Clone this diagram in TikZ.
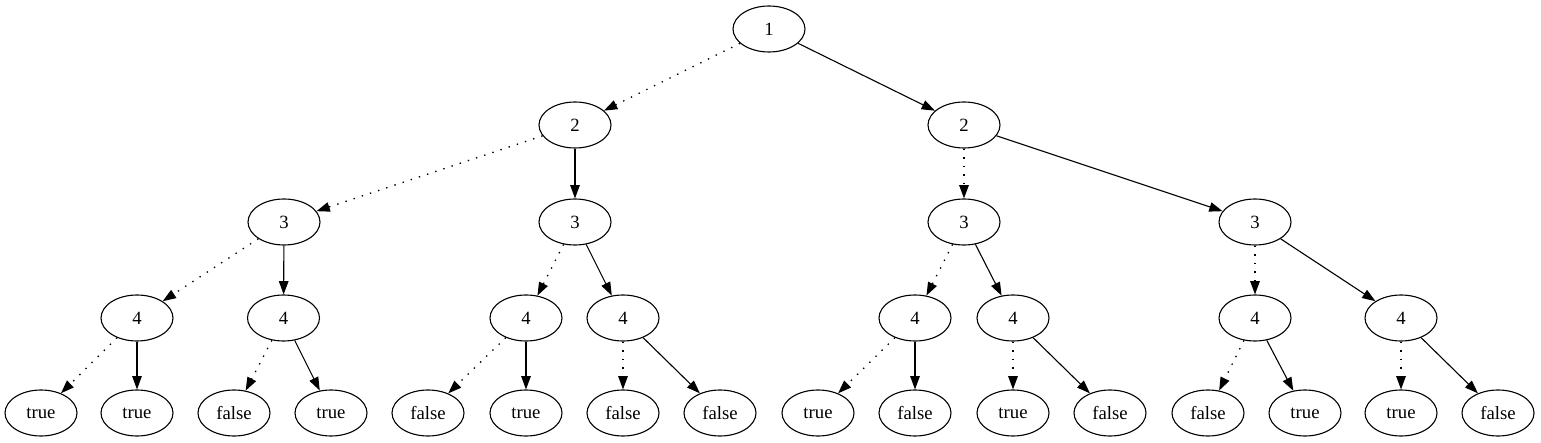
\documentclass[tikz,border=0pt]{standalone}
\usepackage{fontspec}
\setmainfont{Liberation Serif}
\usetikzlibrary{shapes.geometric,arrows.meta}
\begin{document}
\begin{tikzpicture}[x=1pt,y=-1pt,
  nd/.style={draw,ellipse,line width=1.1pt,minimum width=72pt,minimum height=46pt,inner sep=0pt,font=\fontsize{18.7}{20}\selectfont},
  lo/.style={line width=1.3pt,dash pattern=on 1.4pt off 7.2pt,-{Triangle[length=13.3pt,width=9.5pt]}},
  hi/.style={line width=1.1pt,-{Triangle[length=13.3pt,width=9.5pt]}}]
\useasboundingbox (0,0) rectangle (1541,443);
\node[nd] (r) at (769,29) {1};
\node[nd] (a) at (575,125) {2};
\node[nd] (b) at (964,125) {2};
\node[nd] (aa) at (284,222) {3};
\node[nd] (ab) at (575,222) {3};
\node[nd] (ba) at (964,222) {3};
\node[nd] (bb) at (1255,222) {3};
\node[nd] (aaa) at (137,318) {4};
\node[nd] (aab) at (283.5,318) {4};
\node[nd] (aba) at (526,318) {4};
\node[nd] (abb) at (623,318) {4};
\node[nd] (baa) at (915,318) {4};
\node[nd] (bab) at (1013,318) {4};
\node[nd] (bba) at (1255,318) {4};
\node[nd] (bbb) at (1401,318) {4};
\node[nd] (l1) at (41,413) {true};
\node[nd] (l2) at (137,413) {true};
\node[nd] (l3) at (234,413) {false};
\node[nd] (l4) at (331,413) {true};
\node[nd] (l5) at (428,413) {false};
\node[nd] (l6) at (526,413) {true};
\node[nd] (l7) at (623,413) {false};
\node[nd] (l8) at (720,413) {false};
\node[nd] (l9) at (818,413) {true};
\node[nd] (l10) at (915,413) {false};
\node[nd] (l11) at (1013,413) {true};
\node[nd] (l12) at (1110,413) {false};
\node[nd] (l13) at (1208,413) {false};
\node[nd] (l14) at (1305,413) {true};
\node[nd] (l15) at (1401,413) {true};
\node[nd] (l16) at (1498,413) {false};
\draw[lo] (r) -- (a);   \draw[hi] (r) -- (b);
\draw[lo] (a) -- (aa);  \draw[hi] (a) -- (ab);
\draw[lo] (b) -- (ba);  \draw[hi] (b) -- (bb);
\draw[lo] (aa) -- (aaa); \draw[hi] (aa) -- (aab);
\draw[lo] (ab) -- (aba); \draw[hi] (ab) -- (abb);
\draw[lo] (ba) -- (baa); \draw[hi] (ba) -- (bab);
\draw[lo] (bb) -- (bba); \draw[hi] (bb) -- (bbb);
\draw[lo] (aaa) -- (l1); \draw[hi] (aaa) -- (l2);
\draw[lo] (aab) -- (l3); \draw[hi] (aab) -- (l4);
\draw[lo] (aba) -- (l5); \draw[hi] (aba) -- (l6);
\draw[lo] (abb) -- (l7); \draw[hi] (abb) -- (l8);
\draw[lo] (baa) -- (l9); \draw[hi] (baa) -- (l10);
\draw[lo] (bab) -- (l11); \draw[hi] (bab) -- (l12);
\draw[lo] (bba) -- (l13); \draw[hi] (bba) -- (l14);
\draw[lo] (bbb) -- (l15); \draw[hi] (bbb) -- (l16);
\end{tikzpicture}
\end{document}
